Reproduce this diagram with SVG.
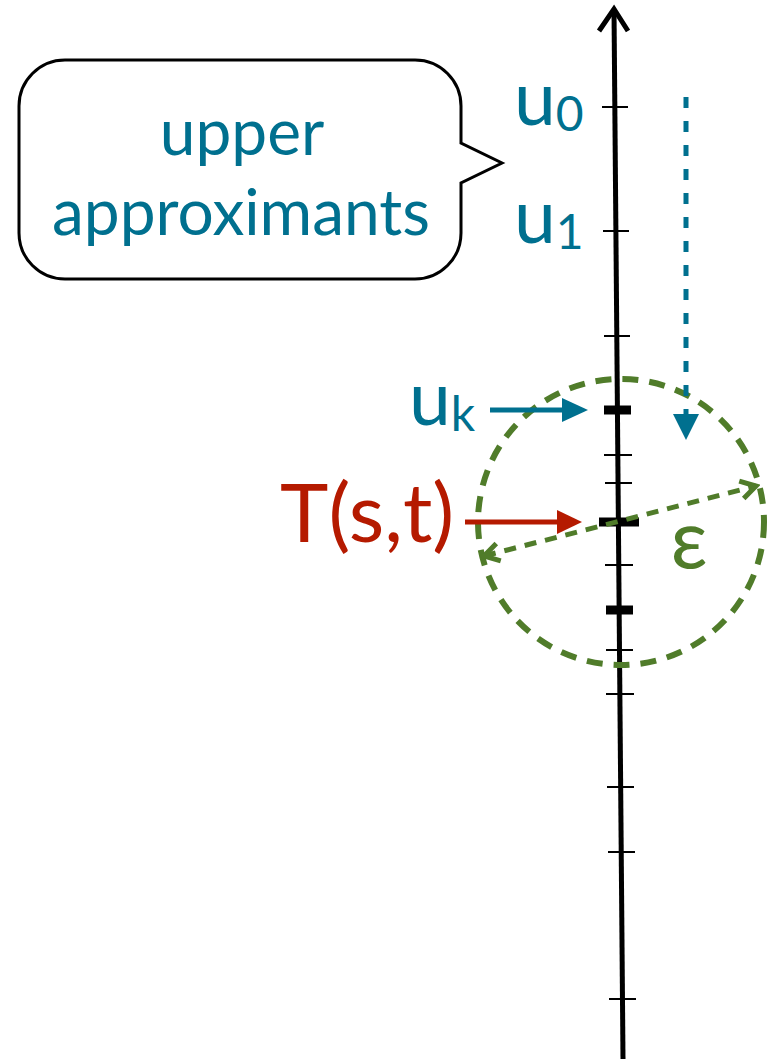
<svg xmlns="http://www.w3.org/2000/svg" width="769" height="1059" viewBox="0 0 769 1059">
<defs>
<style>
.lbl{font-family:Lato,"Open Sans","DejaVu Sans",sans-serif;}
.teal{fill:#00708F;}
.red{fill:#B51A00;}
.green{fill:#507C2A;}
.tick{stroke:#000;stroke-width:2;}
.thick{stroke:#000;stroke-width:9;}
</style>
<marker id="openArrow" viewBox="0 0 24 24" refX="20" refY="12" markerWidth="24" markerHeight="24" markerUnits="userSpaceOnUse" orient="auto-start-reverse">
<path d="M5,3 L20,12 L5,21" fill="none" stroke="#507C2A" stroke-width="5" stroke-dasharray="none" stroke-linejoin="miter"/>
</marker>
</defs>
<rect width="769" height="1059" fill="#fff"/>

<g id="axis">
<line x1="614" y1="10" x2="623" y2="1059" stroke="#000" stroke-width="5"/>
<polyline points="599,31 614,9 628,31" fill="none" stroke="#000" stroke-width="5"/>
<line class="tick" x1="602" y1="107" x2="628" y2="107"/>
<line class="tick" x1="603" y1="231" x2="629" y2="231"/>
<line class="tick" x1="604" y1="336" x2="630" y2="336"/>
<line class="thick" x1="604" y1="410" x2="631" y2="410"/>
<line class="tick" x1="604" y1="455" x2="632" y2="455"/>
<line class="tick" x1="605" y1="483" x2="632" y2="483"/>
<line class="thick" x1="599" y1="522" x2="639" y2="522"/>
<line class="tick" x1="605" y1="565" x2="633" y2="565"/>
<line class="thick" x1="606" y1="610" x2="633" y2="610"/>
<line class="tick" x1="606" y1="650" x2="633" y2="650"/>
<line class="tick" x1="606" y1="694" x2="634" y2="694"/>
<line class="tick" x1="607" y1="787" x2="634" y2="787"/>
<line class="tick" x1="608" y1="852" x2="635" y2="852"/>
<line class="tick" x1="609" y1="999" x2="636" y2="999"/>
</g>

<g id="callout">
<path d="M65,60 H415 A46,46 0 0 1 461,106 V143 L502,163 L461,183 V233 A46,46 0 0 1 415,279 H65 A46,46 0 0 1 19,233 V106 A46,46 0 0 1 65,60 Z" fill="#fff" stroke="#000" stroke-width="3"/>
<text class="lbl teal" x="242" y="155" font-size="64" text-anchor="middle">upper</text>
<text class="lbl teal" x="241" y="235" font-size="64" text-anchor="middle">approximants</text>
</g>

<g id="label-u0">
<text class="lbl teal" x="514" y="125" font-size="75">u<tspan font-size="48" dy="6">0</tspan></text>
</g>
<g id="label-u1">
<text class="lbl teal" x="514" y="243" font-size="75">u<tspan font-size="48" dy="6">1</tspan></text>
</g>
<g id="label-uk">
<text class="lbl teal" x="409" y="425" font-size="75">u<tspan font-size="48" dy="6">k</tspan></text>
</g>
<g id="label-T">
<text class="lbl red" x="280" y="542" font-size="82">T(s,t)</text>
</g>
<g id="epsilon-circle">
<circle cx="621" cy="522" r="143" fill="none" stroke="#507C2A" stroke-width="6" stroke-dasharray="16 11"/>
<text class="lbl green" x="689" y="568" font-size="82" text-anchor="middle">ε</text>
</g>

<g id="connectors">
<line x1="686" y1="97" x2="686" y2="415" stroke="#00708F" stroke-width="5" stroke-dasharray="11 13"/>
<polygon points="673,414 699,414 686,440" fill="#00708F"/>
<line x1="490" y1="410" x2="564" y2="410" stroke="#00708F" stroke-width="5"/>
<polygon points="562,398 588,410 562,422" fill="#00708F"/>
<line x1="465" y1="522" x2="559" y2="522" stroke="#B51A00" stroke-width="5"/>
<polygon points="557,510 582,522 557,534" fill="#B51A00"/>
<line x1="484" y1="556" x2="756" y2="486" stroke="#507C2A" stroke-width="5" stroke-dasharray="12 9" marker-start="url(#openArrow)" marker-end="url(#openArrow)"/>
</g>
</svg>
